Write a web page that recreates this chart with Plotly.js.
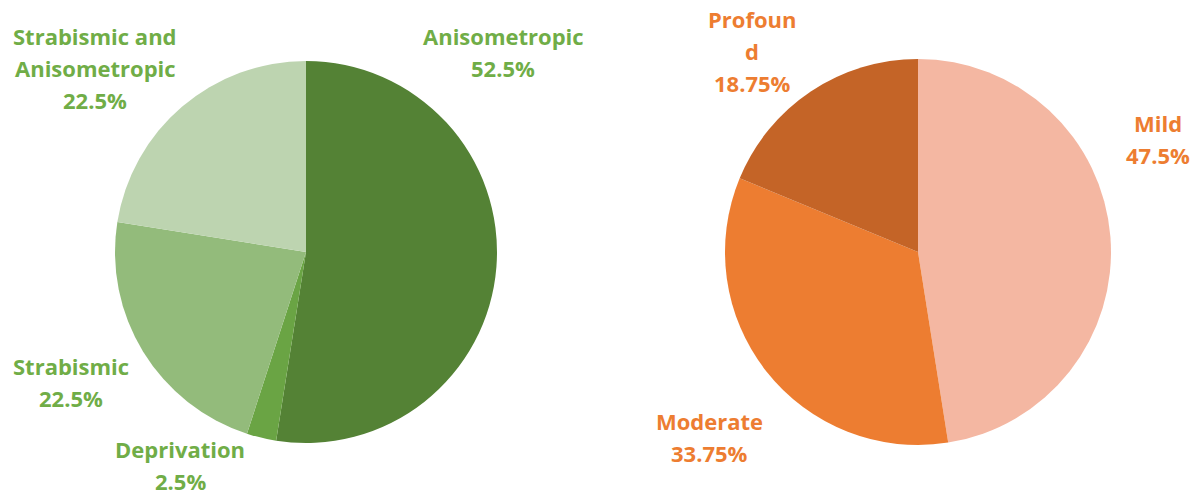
<!DOCTYPE html>
<html><head><meta charset="utf-8">
<script src="https://cdn.plot.ly/plotly-3.0.1.min.js"></script>
<style>html,body{margin:0;padding:0;background:#fff}#chart{width:1195px;height:495px}</style>
</head><body><div id="chart"></div>
<script>
const leftCategories = ["Anisometropic", "Deprivation", "Strabismic", "Strabismic and Anisometropic"];
const leftLabelLines = [["Anisometropic"], ["Deprivation"], ["Strabismic"], ["Strabismic and", "Anisometropic"]];
const leftValues = [52.5, 2.5, 22.5, 22.5];
const rightCategories = ["Mild", "Moderate", "Profound"];
const rightLabelLines = [["Mild"], ["Moderate"], ["Profoun", "d"]];
const rightValues = [47.5, 33.75, 18.75];

const leftColors = ["#548235", "#6AA444", "#93BB7B", "#BDD4B0"];
const rightColors = ["#F4B7A2", "#ED7D31", "#C46427"];
const W = 1195, H = 495, LINE = 32;
// first-line centre positions in pixels (layout only)
const leftPos = [[503, 35], [180, 448], [71, 365], [95, 35]];
const rightPos = [[1158, 122], [709, 420], [752, 18]];

const traces = [
  {type: "pie", labels: leftCategories, values: leftValues, sort: false, direction: "clockwise", rotation: 0,
   marker: {colors: leftColors, line: {width: 0}}, textinfo: "none", hoverinfo: "label+percent",
   domain: {x: [115/W, 497/W], y: [1 - 443/H, 1 - 61/H]}},
  {type: "pie", labels: rightCategories, values: rightValues, sort: false, direction: "clockwise", rotation: 0,
   marker: {colors: rightColors, line: {width: 0}}, textinfo: "none", hoverinfo: "label+percent",
   domain: {x: [725/W, 1111/W], y: [1 - 445/H, 1 - 59/H]}}
];

const annotations = [];
function addLabels(lines, values, pos, color) {
  values.forEach((v, i) => {
    const all = lines[i].concat([v + "%"]);
    all.forEach((t, k) => annotations.push({
      text: t, x: pos[i][0] / W, y: 1 - (pos[i][1] + k * LINE + 1) / H,
      xref: "paper", yref: "paper", showarrow: false, xanchor: "center", yanchor: "middle",
      font: {family: "Open Sans", size: 22, color: color, weight: 700}
    }));
  });
}
addLabels(leftLabelLines, leftValues, leftPos, "#70AD47");
addLabels(rightLabelLines, rightValues, rightPos, "#ED7D31");

Plotly.newPlot("chart", traces, {
  width: W, height: H, margin: {l: 0, r: 0, t: 0, b: 0}, showlegend: false,
  paper_bgcolor: "#fff", annotations: annotations
}, {displayModeBar: false, staticPlot: true});
</script></body></html>
